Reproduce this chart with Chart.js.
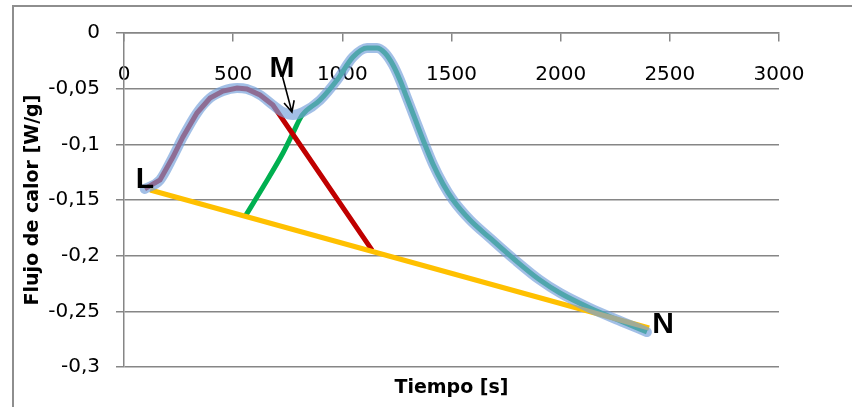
<!DOCTYPE html>
<html>
<head>
<meta charset="utf-8">
<script src="https://cdn.jsdelivr.net/npm/chart.js@4.4.0/dist/chart.umd.min.js"></script>
<style>
  html, body { margin: 0; padding: 0; background: #fff; }
  #wrap { position: relative; width: 852px; height: 407px; overflow: hidden; }
  #frame { position: absolute; left: 12px; top: 5px; width: 900px; height: 500px;
           border-left: 2px solid #8e8e8e; border-top: 2px solid #8e8e8e; }
  canvas { position: absolute; left: 0; top: 0; }
</style>
</head>
<body>
<div id="wrap"><div id="frame"></div><canvas id="chart" width="852" height="407"></canvas></div>
<script>
'use strict';

// ─── Data ────────────────────────────────────────────────────────────────────
const xTickLabels = ['0', '500', '1000', '1500', '2000', '2500', '3000'];
const yTickLabels = ['-0,3', '-0,25', '-0,2', '-0,15', '-0,1', '-0,05', '0'];

// measured heat flow (thick blue curve)
const curveX = [95, 165, 224, 270, 334, 394, 453, 518, 563, 623, 682, 728, 774, 820, 898, 976,
                1049, 1113, 1159, 1195, 1232, 1264, 1296, 1333, 1370, 1415, 1461, 1507, 1585,
                1676, 1791, 1905, 1997, 2134, 2285, 2395];
const curveY = [-0.140, -0.132, -0.1114, -0.0934, -0.0719, -0.0584, -0.0521, -0.0494, -0.0503,
                -0.0557, -0.0647, -0.0710, -0.0737, -0.0710, -0.0602, -0.0422, -0.0216, -0.0135,
                -0.0135, -0.0180, -0.0287, -0.0422, -0.0584, -0.0772, -0.0961, -0.1177, -0.1356,
                -0.1500, -0.1680, -0.1841, -0.2039, -0.2219, -0.2335, -0.2470, -0.2596, -0.2686];

// first peak (red)
const redX = [95, 165, 224, 270, 334, 394, 453, 518, 563, 623, 682, 1136];
const redY = [-0.140, -0.132, -0.1114, -0.0934, -0.0719, -0.0584, -0.0521, -0.0494, -0.0503,
              -0.0557, -0.0647, -0.195];

// second peak (green)
const greenX = [554, 637, 728, 774, 815, 898, 976, 1049, 1113, 1159, 1195, 1232, 1264, 1296,
                1333, 1370, 1415, 1461, 1507, 1585, 1676, 1791, 1905, 1997, 2134, 2285, 2395];
const greenY = [-0.165, -0.1383, -0.1078, -0.0898, -0.0740, -0.0602, -0.0422, -0.0216, -0.0135,
                -0.0135, -0.0180, -0.0287, -0.0422, -0.0584, -0.0772, -0.0961, -0.1177, -0.1356,
                -0.1500, -0.1680, -0.1841, -0.2039, -0.2219, -0.2335, -0.2470, -0.2596, -0.2686];

// baseline (orange)
const baseX = [120, 2405];
const baseY = [-0.141, -0.265];

// point labels and arrow
const markLabels = ['L', 'M', 'N'];
const markX = [96, 724, 2469];
const markY = [-0.132, -0.0323, -0.2623];
const arrowX = [724, 769];
const arrowY = [-0.0377, -0.0710];

const toPts = (xs, ys) => xs.map((x, i) => ({ x: x, y: ys[i] }));

// ─── Labels / arrow plugin ──────────────────────────────────────────────────
const marksPlugin = {
  id: 'marks',
  afterDatasetsDraw(chart) {
    const { ctx, scales: { x, y } } = chart;
    ctx.save();
    ctx.fillStyle = '#000';
    ctx.font = 'bold 30px "Liberation Sans", Arial, sans-serif';
    ctx.textAlign = 'center';
    ctx.textBaseline = 'middle';
    markLabels.forEach((t, i) => {
      ctx.fillText(t, x.getPixelForValue(markX[i]), y.getPixelForValue(markY[i]));
    });

    const x1 = x.getPixelForValue(arrowX[0]), y1 = y.getPixelForValue(arrowY[0]);
    const x2 = x.getPixelForValue(arrowX[1]), y2 = y.getPixelForValue(arrowY[1]);
    const ang = Math.atan2(y2 - y1, x2 - x1);
    const head = 12;
    ctx.strokeStyle = '#000';
    ctx.lineWidth = 1.6;
    ctx.beginPath();
    ctx.moveTo(x1, y1);
    ctx.lineTo(x2, y2);
    ctx.moveTo(x2 - head * Math.cos(ang - 0.45), y2 - head * Math.sin(ang - 0.45));
    ctx.lineTo(x2, y2);
    ctx.lineTo(x2 - head * Math.cos(ang + 0.45), y2 - head * Math.sin(ang + 0.45));
    ctx.stroke();
    ctx.restore();
  }
};

// ─── Chart ──────────────────────────────────────────────────────────────────
const gridColor = '#868686';
const tickFont = { family: '"DejaVu Sans", sans-serif', size: 20 };
const titleFont = { family: '"DejaVu Sans", sans-serif', size: 19, weight: 'bold' };

new Chart(document.getElementById('chart'), {
  type: 'line',
  data: {
    datasets: [
      {
        label: 'Flujo', data: toPts(curveX, curveY),
        borderColor: 'rgba(118,160,218,0.68)', borderWidth: 10,
        borderCapStyle: 'round', borderJoinStyle: 'round',
        cubicInterpolationMode: 'monotone', pointRadius: 0
      },
      {
        label: 'Base', data: toPts(baseX, baseY),
        borderColor: '#ffc000', borderWidth: 5, pointRadius: 0, tension: 0
      },
      {
        label: 'Pico 1', data: toPts(redX, redY),
        borderColor: '#c00000', borderWidth: 5, pointRadius: 0, tension: 0
      },
      {
        label: 'Pico 2', data: toPts(greenX, greenY),
        borderColor: '#00b050', borderWidth: 5, pointRadius: 0,
        cubicInterpolationMode: 'monotone'
      }
    ]
  },
  options: {
    responsive: false,
    animation: false,
    layout: { padding: { top: 33, right: 73, bottom: 0, left: 0 } },
    plugins: { legend: { display: false }, tooltip: { enabled: false } },
    scales: {
      x: {
        type: 'linear', min: 0, max: 3000,
        position: { y: 0 },
        ticks: {
          stepSize: 500, padding: 22, color: '#000', font: tickFont,
          maxRotation: 0, autoSkip: false,
          callback: (v, i) => xTickLabels[i]
        },
        grid: { drawOnChartArea: false, drawTicks: true, tickLength: 8, color: gridColor, lineWidth: 1.5 },
        border: { display: true, color: gridColor, width: 1.5 }
      },
      x2: {
        type: 'linear', min: 0, max: 3000, position: 'bottom',
        ticks: { display: false },
        grid: { display: false },
        border: { display: false },
        title: { display: true, text: 'Tiempo [s]', color: '#000', font: titleFont,
                 padding: { top: 0, bottom: 8 } },
        afterFit(scale) { scale.height = 40; }
      },
      y: {
        type: 'linear', min: -0.3, max: 0, position: 'left',
        ticks: {
          stepSize: 0.05, padding: 16, color: '#000', font: tickFont,
          callback: (v, i) => yTickLabels[i]
        },
        grid: { color: gridColor, lineWidth: 1.5, tickLength: 8 },
        border: { display: true, color: gridColor, width: 1.5 },
        title: { display: true, text: 'Flujo de calor [W/g]', color: '#000', font: titleFont,
                 padding: { top: 21.6, bottom: 0 } },
        afterFit(scale) { scale.width = 124; }
      }
    }
  },
  plugins: [marksPlugin]
});
</script>
</body>
</html>
